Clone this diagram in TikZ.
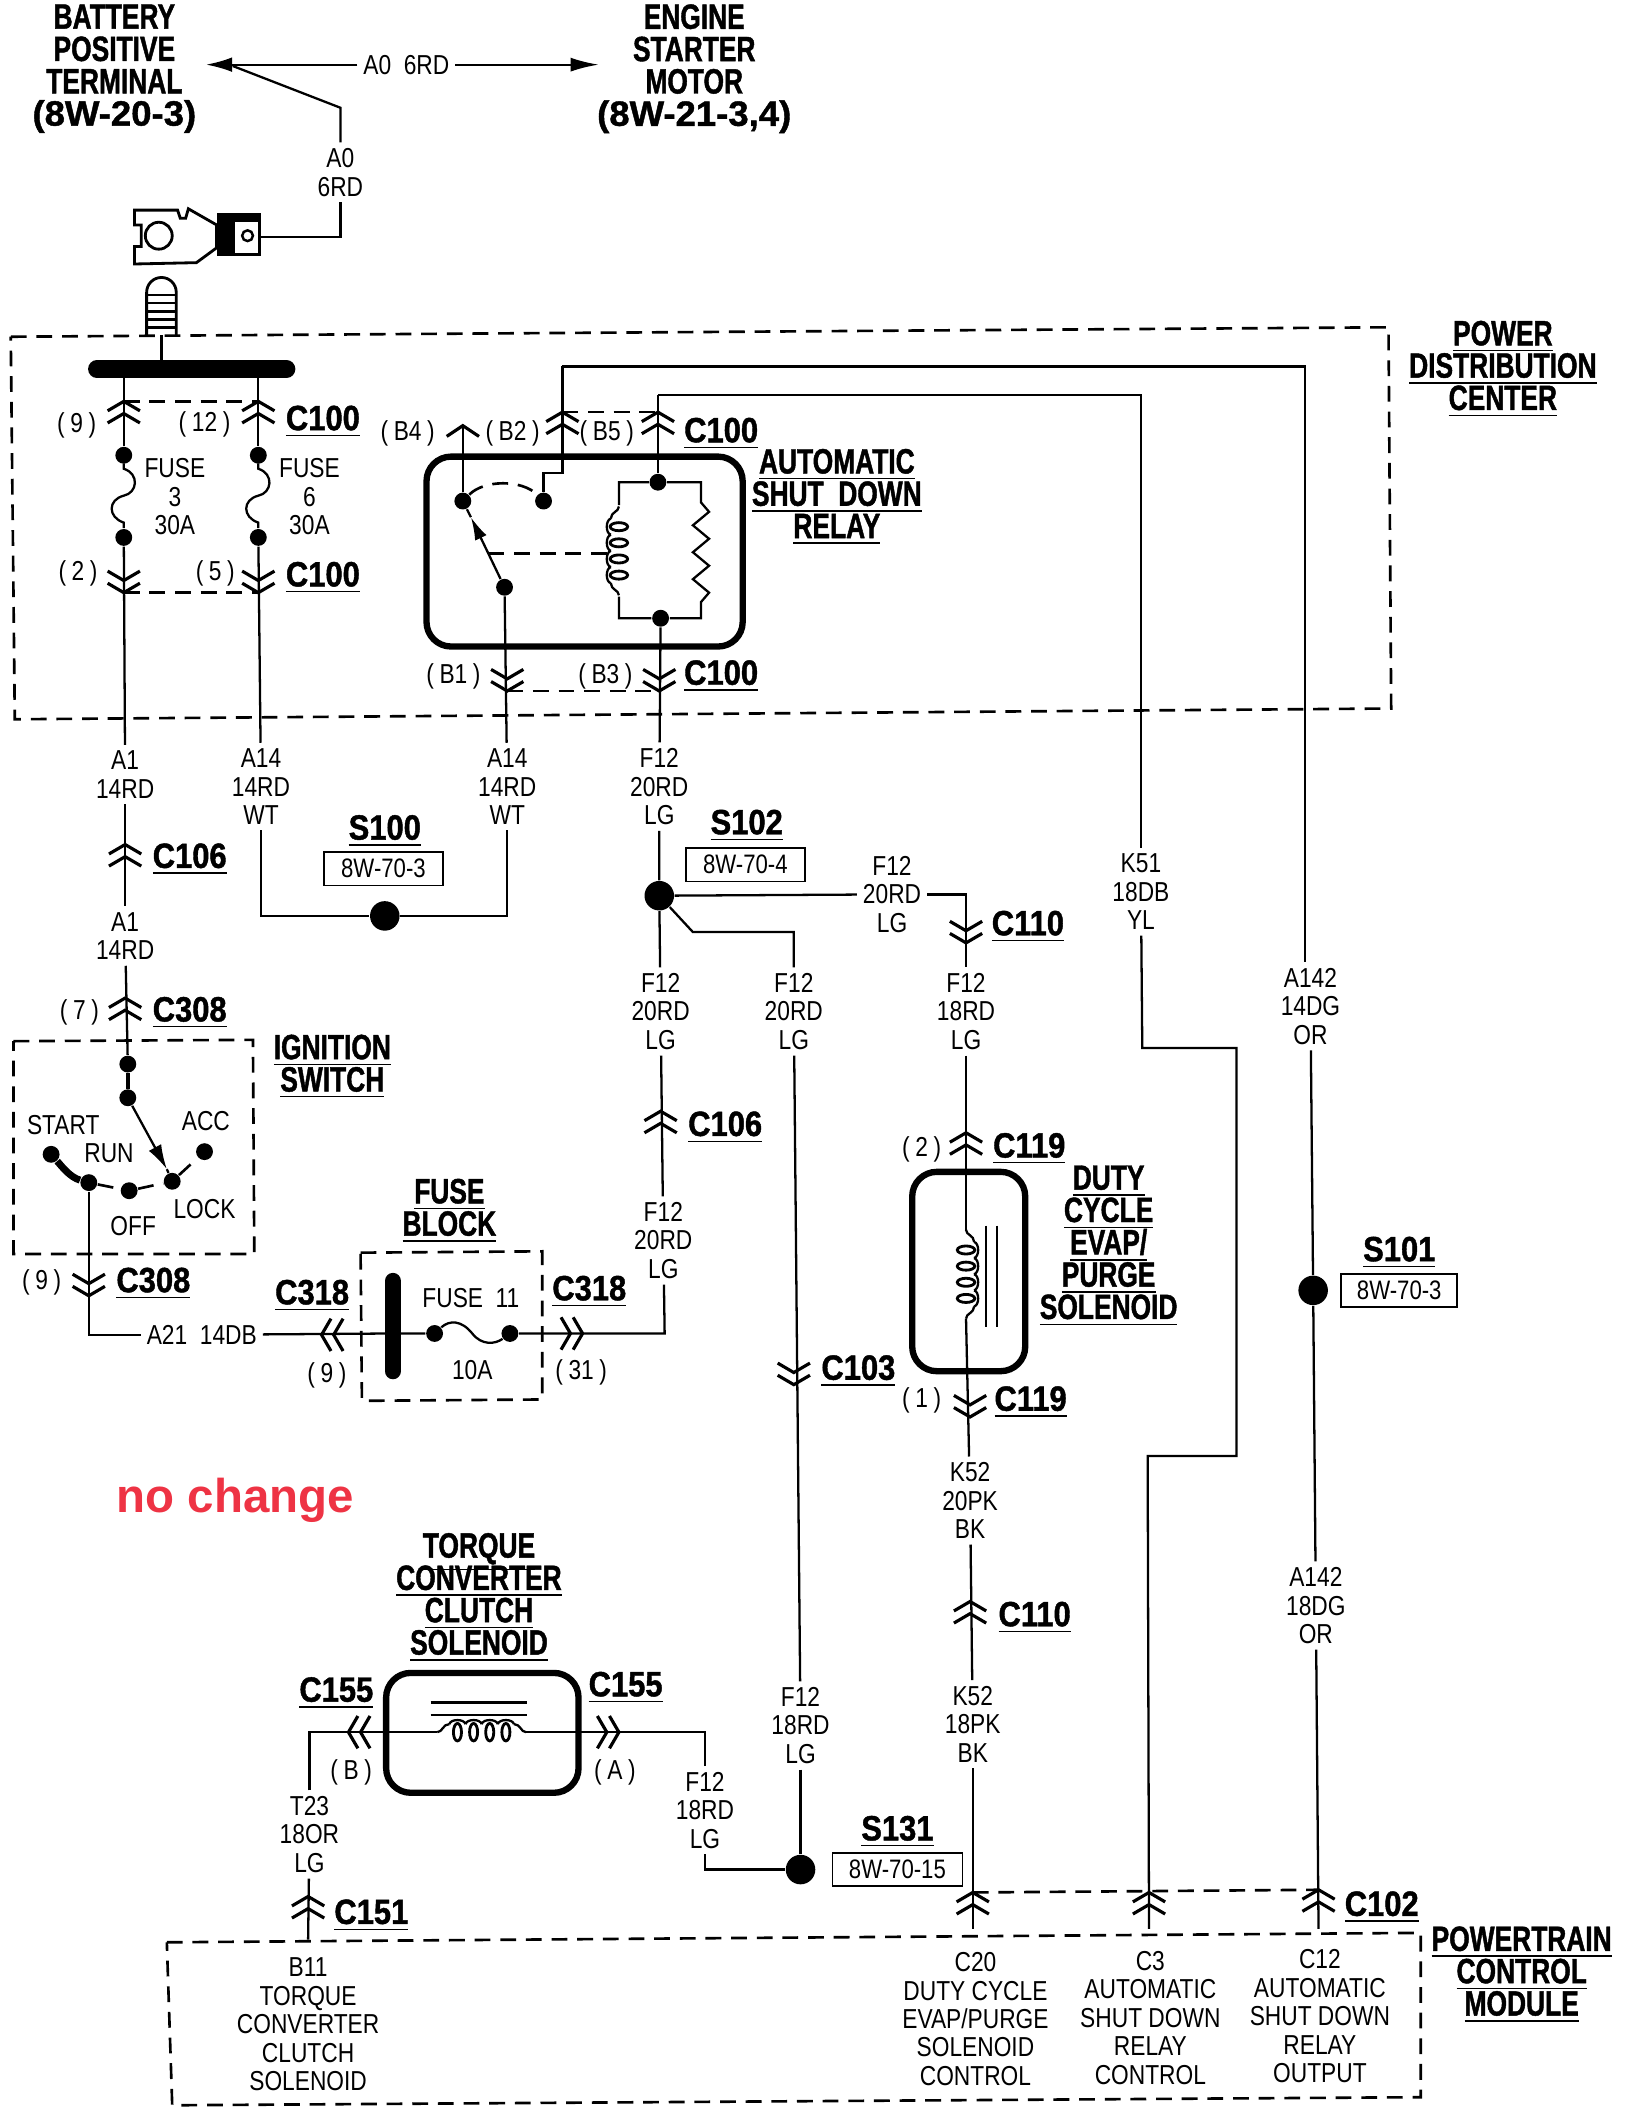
\documentclass[tikz,border=0pt]{standalone}
\usepackage{fontspec}
\setmainfont{Liberation Sans}
\newfontfamily\wirefont[FakeStretch=0.83]{Liberation Sans}
\newfontfamily\hdrfont[FakeStretch=0.75,FakeBold=1.2]{Liberation Sans}
\newfontfamily\numfont[FakeStretch=0.88,FakeBold=1.2]{Liberation Sans}
\newfontfamily\widefont[FakeStretch=1.04,FakeBold=1.2]{Liberation Sans}
\usetikzlibrary{arrows.meta}
\definecolor{stampred}{HTML}{EE3344}
\AtBeginDocument{\lineskiplimit=-5pt}
\newcommand{\ulbl}[1]{\underline{#1}}
\newcommand{\pinlbl}[1]{(\kern1.6pt #1\kern1.6pt)}
\tikzset{
    wire/.style={line width=0.65pt},
    thickbox/.style={line width=1.8pt, rounded corners=7pt},
    dashbox/.style={dashed, dash pattern=on 4.5pt off 2.8pt, line width=0.75pt},
    wlbl/.style={font=\wirefont\fontsize{7.8}{8.1}\selectfont, align=center, inner sep=1.5pt},
    hdr/.style={font=\hdrfont\bfseries\fontsize{10}{9.2}\selectfont, align=center, inner sep=0.5pt},
    chdr/.style={font=\numfont\bfseries\fontsize{10}{9.2}\selectfont, align=center, inner sep=0.5pt},
    dotn/.style={circle, fill=black, inner sep=0pt, minimum size=4.8pt},
    dotbig/.style={circle, fill=black, inner sep=0pt, minimum size=8.4pt},
    refbox/.style={draw, line width=0.5pt, font=\wirefont\fontsize{7.6}{8}\selectfont, inner sep=0pt, minimum height=9.5pt},
    conup/.pic={\draw[line width=0.9pt] (-12,7) -- (0,0) -- (12,7) (-12,16) -- (0,9) -- (12,16);},
    condown/.pic={\draw[line width=0.9pt] (-12,-7) -- (0,0) -- (12,-7) (-12,-16) -- (0,-9) -- (12,-16);},
    conleft/.pic={\draw[line width=0.9pt] (7,-12) -- (0,0) -- (7,12) (16,-12) -- (9,0) -- (16,12);},
    conright/.pic={\draw[line width=0.9pt] (-7,-12) -- (0,0) -- (-7,12) (-16,-12) -- (-9,0) -- (-16,12);},
    conone/.pic={\draw[line width=0.9pt] (-12,8) -- (0,0) -- (12,8);},
    coil/.pic={
        \draw[wire] (-33,0) .. controls (-29,0) and (-29,-6) .. (-24,-6);
        \draw[wire] (33,0) .. controls (29,0) and (29,-6) .. (24,-6);
        \foreach \c in {-18,-6,6,18} {
            \draw[wire] (\c-6,-6) .. controls (\c-5,-10) and (\c+5,-10) .. (\c+6,-6);
            \draw[line width=0.8pt] (\c,0) ellipse [x radius=3, y radius=6.5];
        }
    },
    fusewave/.pic={\draw[wire] (0,-24) -- (0,-20) .. controls (12,-16) and (10,-2) .. (0,0) .. controls (-12,3) and (-12,16) .. (0,20) -- (0,24);}
}
\begin{document}
\begin{tikzpicture}[x=0.013465cm, y=-0.01347cm]
    \useasboundingbox (0,0) rectangle (1212,1568);

    % top of the sheet
    \node[hdr] (batthdr) at (85,51) {BATTERY\\POSITIVE\\TERMINAL\\{\widefont (8W-20-3)}};
    \node[hdr] (starthdr) at (516,51) {ENGINE\\STARTER\\MOTOR\\{\widefont (8W-21-3,4)}};
    \node[wlbl] (a0h) at (302,48) {A0~~6RD};
    \node[wlbl] (a0v) at (253,128) {A0\\6RD};
    \coordinate (batttip) at (153,48);
    \coordinate (starttip) at (445,48);
    \coordinate (battjoin) at (173,49);
    \coordinate (a0bend) at (253,80);
    \coordinate (termend) at (194,176);
    \draw[wire, -{Latex[length=7.5pt, width=4.2pt]}] (a0h) -- (batttip);
    \draw[wire, -{Latex[length=8pt, width=4pt]}] (a0h) -- (starttip);
    \draw[wire] (battjoin) -- (a0bend) -- (a0v);
    \draw[wire] (a0v) |- (termend);

    % battery terminal and stud
    \draw[line width=0.8pt] (100,156) -- (132,156) -- (134,162) -- (138,162) -- (140,155) -- (161,167) -- (161,184) -- (146,195) -- (100,196) -- (100,183) -- (105,183) -- (105,167) -- (100,167) -- cycle;
    \draw[line width=0.8pt] (118,175) circle (10);
    \draw[line width=0.8pt] (162,159) rectangle (193,189);
    \fill (162,159) rectangle (175,189);
    \fill (162,159) rectangle (193,165);
    \draw[line width=0.7pt] (184,175) circle (4);
    \draw[line width=0.8pt] (109,249) -- (109,217) arc (180:360:11) -- (131,249);
    \foreach \y in {219,225,231,237,243} \draw[line width=0.8pt] (109,\y) -- (131,\y);

    % power distribution center
    \draw[dashbox] (8,250) -- (1032,243) -- (1034,526) -- (11,534) -- cycle;
    \node[hdr] (pdchdr) at (1117,274) {\ulbl{POWER}\\\ulbl{DISTRIBUTION}\\\ulbl{CENTER}};
    \coordinate (studend) at (120,249);
    \coordinate (busmid) at (120,274);
    \coordinate (busl) at (72,274);
    \coordinate (busr) at (213,274);
    \draw[wire] (studend) -- (busmid);
    \draw[line width=5pt, line cap=round] (busl) -- (busr);

    % fuses 3 and 6
    \coordinate (bus3) at (92,274);
    \coordinate (bus6) at (192,274);
    \node[dotn] (f3a) at (92,338) {};
    \node[dotn] (f3b) at (92,399) {};
    \node[dotn] (f6a) at (192,338) {};
    \node[dotn] (f6b) at (192,399) {};
    \draw[wire] (bus3) -- (f3a);
    \draw[wire] (bus6) -- (f6a);
    \pic at (92,368) {fusewave};
    \pic at (192,368) {fusewave};
    \pic at (92,298) {conup};
    \pic at (192,298) {conup};
    \pic at (92,440) {condown};
    \pic at (192,440) {condown};
    \draw[dashbox] (92,298) -- (192,298);
    \draw[dashbox] (92,440) -- (192,440);
    \node[wlbl] (pin9) at (57,316) {\pinlbl{9}};
    \node[wlbl] (pin12) at (152,315) {\pinlbl{12}};
    \node[wlbl] (pin2) at (58,426) {\pinlbl{2}};
    \node[wlbl] (pin5) at (160,426) {\pinlbl{5}};
    \node[wlbl] (fuse3) at (130,369) {FUSE\\3\\30A};
    \node[wlbl] (fuse6) at (230,369) {FUSE\\6\\30A};
    \node[chdr] (c100a) at (240,313) {\ulbl{C100}};
    \node[chdr] (c100b) at (240,429) {\ulbl{C100}};

    % shut down relay
    \draw[thickbox] (317,339) rectangle (552,480);
    \node[hdr] (relayhdr) at (622,369) {\ulbl{AUTOMATIC}\\\ulbl{SHUT~~DOWN}\\\ulbl{RELAY}};
    \node[dotn] (relnc) at (344,372) {};
    \node[dotn] (relno) at (404,372) {};
    \node[dotn] (relcom) at (375,436) {};
    \node[dotn] (coiltop) at (489,358) {};
    \node[dotn] (coilbot) at (491,459) {};
    \coordinate (b4tip) at (344,316);
    \coordinate (b2top) at (418,272);
    \coordinate (b5top) at (489,293);
    \coordinate (b2in) at (418,351);
    \coordinate (b2jog) at (404,351);
    \coordinate (blade) at (350,384);
    \coordinate (armstart) at (363,411);
    \coordinate (armend) at (452,411);
    \draw[wire] (relnc) -- (b4tip);
    \pic at (344,316) {conone};
    \pic at (418,306) {conup};
    \pic at (489,306) {conup};
    \draw[dashbox] (418,306) -- (489,306);
    \draw[wire] (b2top) -- (b2in) -- (b2jog) -- (relno);
    \draw[wire] (b5top) -- (coiltop);
    \draw[dashbox] (relnc) .. controls (360,356) and (388,356) .. (relno);
    \draw[wire, -{Latex[length=6.5pt, width=3.6pt]}] (relcom) -- (blade);
    \draw[wire] (blade) -- (relnc);
    \draw[dashbox] (armstart) -- (armend);
    \draw[wire] (460,375) -- (460,358) -- (coiltop) -- (521,358) -- (521,373) -- (527,380) -- (515,390) -- (527,400) -- (515,410) -- (527,420) -- (515,430) -- (527,440) -- (521,447) -- (521,459) -- (coilbot) -- (460,459) -- (460,443);
    \pic[rotate=90] at (460,409) {coil};
    \pic at (377,513) {condown};
    \pic at (490,513) {condown};
    \draw[dashbox] (377,513) -- (490,513);
    \node[wlbl] (pinb4) at (303,322) {\pinlbl{B4}};
    \node[wlbl] (pinb2) at (381,322) {\pinlbl{B2}};
    \node[wlbl] (pinb5) at (451,322) {\pinlbl{B5}};
    \node[wlbl] (pinb1) at (337,502) {\pinlbl{B1}};
    \node[wlbl] (pinb3) at (450,502) {\pinlbl{B3}};
    \node[chdr] (c100c) at (536,322) {\ulbl{C100}};
    \node[chdr] (c100d) at (536,502) {\ulbl{C100}};

    % long runs to the powertrain module
    \node[wlbl] (k51) at (848,662) {K51\\18DB\\YL};
    \node[wlbl] (a142a) at (974,747) {A142\\14DG\\OR};
    \node[wlbl] (a142b) at (978,1192) {A142\\18DG\\OR};
    \node[dotbig] (s101dot) at (976,958) {};
    \coordinate (a142corner) at (970,272);
    \coordinate (a142end) at (970,714);
    \coordinate (c3pin) at (854,1432);
    \coordinate (c12pin) at (980,1432);
    \draw[wire] (b2top) -- (a142corner) -- (a142end);
    \draw[wire] (b5top) -| (k51);
    \draw[wire] (k51) -- (849,778) -- (919,778) -- (919,1081) -- (853,1081) -- (c3pin);
    \draw[wire] (a142a) -- (s101dot) -- (a142b) -- (c12pin);
    \node[chdr] (s101) at (1040,930) {\ulbl{S101}};
    \node[refbox, minimum width=33pt] (s101box) at (1040,958) {8W-70-3};

    % left column down to the ignition switch
    \node[wlbl] (a1a) at (93,575) {A1\\14RD};
    \node[wlbl] (a1b) at (93,695) {A1\\14RD};
    \node[wlbl] (a14a) at (194,584) {A14\\14RD\\WT};
    \node[wlbl] (a14b) at (377,584) {A14\\14RD\\WT};
    \draw[wire] (f3b) -- (a1a);
    \draw[wire] (f6b) -- (a14a);
    \draw[wire] (relcom) -- (a14b);
    \draw[wire] (a1a) -- (a1b);
    \pic at (93,627) {conup};
    \node[chdr] (c106a) at (141,638) {\ulbl{C106}};
    \node[dotbig] (s100dot) at (286,680) {};
    \draw[wire] (a14a) |- (s100dot);
    \draw[wire] (a14b) |- (s100dot);
    \node[chdr] (s100) at (286,617) {\ulbl{S100}};
    \node[refbox, minimum width=34pt] (s100box) at (285,645) {8W-70-3};
    \pic at (93,741) {conup};
    \node[wlbl] (pin7) at (59,752) {\pinlbl{7}};
    \node[chdr] (c308a) at (141,752) {\ulbl{C308}};

    % ignition switch
    \draw[dashbox] (10,773) -- (188,772) -- (189,931) -- (10,931) -- cycle;
    \node[hdr] (ignhdr) at (247,792) {\ulbl{IGNITION}\\\ulbl{SWITCH}};
    \node[dotn] (ignin) at (95,790) {};
    \node[dotn] (ignpiv) at (95,815) {};
    \node[dotn] (ignstart) at (38,857) {};
    \node[dotn] (ignrun) at (66,878) {};
    \node[dotn] (ignoff) at (96,884) {};
    \node[dotn] (ignlock) at (128,877) {};
    \node[dotn] (ignacc) at (152,855) {};
    \coordinate (ignhead) at (124,868);
    \draw[wire] (a1b) -- (ignin);
    \draw[line width=1.3pt] (ignin) -- (ignpiv);
    \draw[wire, -{Latex[length=7pt, width=4pt]}] (ignpiv) -- (ignhead);
    \draw[wire] (ignhead) -- (ignlock);
    \draw[line width=2pt] (ignstart) .. controls (46,866) and (52,874) .. (ignrun);
    \draw[dashbox] (ignrun) -- (ignoff) -- (ignlock) -- (ignacc);
    \node[wlbl] (txtstart) at (47,835) {START};
    \node[wlbl] (txtrun) at (81,856) {RUN};
    \node[wlbl] (txtacc) at (153,832) {ACC};
    \node[wlbl] (txtoff) at (99,910) {OFF};
    \node[wlbl] (txtlock) at (152,898) {LOCK};
    \pic at (66,962) {condown};
    \node[wlbl] (pin9b) at (31,952) {\pinlbl{9}};
    \node[chdr] (c308b) at (114,953) {\ulbl{C308}};
    \node[wlbl] (a21) at (150,991) {A21~~14DB};
    \draw[wire] (ignrun) |- (a21);

    % fuse block
    \draw[dashbox] (268,930) -- (403,929) -- (403,1039) -- (269,1040) -- cycle;
    \node[hdr] (fusehdr) at (334,899) {\ulbl{FUSE}\\\ulbl{BLOCK}};
    \node[dotn] (f11a) at (323,990) {};
    \node[dotn] (f11b) at (379,990) {};
    \coordinate (fbbar) at (292,990);
    \coordinate (fbout) at (494,990);
    \draw[line width=4.6pt, line cap=round] (292,951) -- (292,1018);
    \draw[wire] (a21) -- (fbbar) -- (f11a);
    \draw[wire] (f11a) .. controls (334,980) and (343,980) .. (351,990) .. controls (358,999) and (368,998) .. (f11b);
    \pic at (239,991) {conleft};
    \pic at (433,990) {conright};
    \node[wlbl] (fuse11) at (350,964) {FUSE~~11};
    \node[wlbl] (fuse10a) at (351,1017) {10A};
    \node[chdr] (c318a) at (232,962) {\ulbl{C318}};
    \node[chdr] (c318b) at (438,959) {\ulbl{C318}};
    \node[wlbl] (pin9c) at (243,1021) {\pinlbl{9}};
    \node[wlbl] (pin31) at (432,1019) {\pinlbl{31}};

    % F12 feed
    \node[wlbl] (f12a) at (490,584) {F12\\20RD\\LG};
    \node[dotbig] (s102dot) at (490,665) {};
    \node[wlbl] (f12b) at (491,751) {F12\\20RD\\LG};
    \node[wlbl] (f12c) at (493,921) {F12\\20RD\\LG};
    \draw[wire] (coilbot) -- (f12a);
    \draw[wire] (f12a) -- (s102dot) -- (f12b);
    \draw[wire] (f12b) -- (f12c);
    \draw[wire] (f11b) -- (fbout) -- (f12c);
    \pic at (491,825) {conup};
    \node[chdr] (c106b) at (539,837) {\ulbl{C106}};
    \node[chdr] (s102) at (555,613) {\ulbl{S102}};
    \node[refbox, minimum width=34pt] (s102box) at (554,642) {8W-70-4};

    % branch to the duty cycle solenoid
    \node[wlbl] (f12d) at (663,664) {F12\\20RD\\LG};
    \node[wlbl] (f12e) at (718,751) {F12\\18RD\\LG};
    \node[wlbl] (k52a) at (721,1114) {K52\\20PK\\BK};
    \node[wlbl] (k52b) at (723,1280) {K52\\18PK\\BK};
    \coordinate (c20pin) at (723,1432);
    \coordinate (dutytop) at (718,913);
    \coordinate (dutybot) at (718,979);
    \draw[wire] (s102dot) -- (f12d);
    \draw[wire] (f12d) -| (f12e);
    \pic at (718,700) {condown};
    \node[chdr] (c110a) at (764,688) {\ulbl{C110}};
    \draw[wire] (f12e) -- (dutytop);
    \draw[wire] (dutybot) -- (k52a);
    \draw[wire] (k52a) -- (k52b);
    \draw[wire] (k52b) -- (c20pin);
    \pic at (718,841) {conup};
    \draw[thickbox] (678,870) rectangle (762,1018);
    \pic[rotate=-90] at (718,946) {coil};
    \draw[wire] (733,910) -- (733,985);
    \draw[wire] (741,910) -- (741,985);
    \pic at (721,1052) {condown};
    \pic at (721,1189) {conup};
    \node[wlbl] (pin2b) at (685,853) {\pinlbl{2}};
    \node[wlbl] (pin1) at (685,1040) {\pinlbl{1}};
    \node[chdr] (c119a) at (765,853) {\ulbl{C119}};
    \node[chdr] (c119b) at (766,1041) {\ulbl{C119}};
    \node[hdr] (dutyhdr) at (824,925) {\ulbl{DUTY}\\\ulbl{CYCLE}\\\ulbl{EVAP/}\\\ulbl{PURGE}\\\ulbl{SOLENOID}};
    \node[chdr] (c110b) at (769,1201) {\ulbl{C110}};

    % branch to the torque converter solenoid
    \coordinate (s102off) at (515,692);
    \node[wlbl] (f12f) at (590,751) {F12\\20RD\\LG};
    \node[wlbl] (f12g) at (595,1281) {F12\\18RD\\LG};
    \node[wlbl] (f12h) at (524,1344) {F12\\18RD\\LG};
    \node[dotbig] (s131dot) at (595,1388) {};
    \draw[wire] (s102dot) -- (s102off) -| (f12f);
    \draw[wire] (f12f) -- (f12g);
    \draw[wire] (f12g) -- (s131dot);
    \draw[wire] (s131dot) -| (f12h);
    \pic at (590,1028) {condown};
    \node[chdr] (c103) at (638,1018) {\ulbl{C103}};
    \node[chdr] (s131) at (667,1360) {\ulbl{S131}};
    \node[refbox, minimum width=37pt] (s131box) at (667,1388) {8W-70-15};
    \draw[thickbox] (287,1242) rectangle (430,1331);
    \node[hdr] (torqhdr) at (356,1186) {\ulbl{TORQUE}\\\ulbl{CONVERTER}\\\ulbl{CLUTCH}\\\ulbl{SOLENOID}};
    \coordinate (torqa) at (391,1286);
    \coordinate (torqb) at (325,1286);
    \node[wlbl] (t23) at (230,1362) {T23\\18OR\\LG};
    \draw[wire] (f12h) |- (torqa);
    \draw[wire] (t23) |- (torqb);
    \pic at (358,1286) {coil};
    \draw[wire] (320,1264) -- (392,1264);
    \draw[wire] (320,1273) -- (392,1273);
    \pic at (259,1286) {conleft};
    \pic at (460,1286) {conright};
    \node[chdr] (c155a) at (250,1257) {\ulbl{C155}};
    \node[chdr] (c155b) at (465,1253) {\ulbl{C155}};
    \node[wlbl] (pinb) at (261,1316) {\pinlbl{B}};
    \node[wlbl] (pina) at (457,1316) {\pinlbl{A}};
    \node[font=\bfseries\fontsize{13.5}{15}\selectfont, text=stampred, inner sep=0pt] (nochange) at (175,1114) {no change};

    % powertrain control module
    \draw[dashbox] (124,1442) -- (1056,1435) -- (1056,1557) -- (128,1563) -- cycle;
    \node[hdr] (pcmhdr) at (1131,1466) {\ulbl{POWERTRAIN}\\\ulbl{CONTROL}\\\ulbl{MODULE}};
    \coordinate (b11pin) at (229,1440);
    \draw[wire] (t23) -- (b11pin);
    \pic at (229,1408) {conup};
    \node[chdr] (c151) at (276,1422) {\ulbl{C151}};
    \pic at (723,1405) {conup};
    \pic at (854,1405) {conup};
    \pic at (980,1403) {conup};
    \draw[dashbox] (723,1405) -- (854,1404) -- (980,1403);
    \node[chdr] (c102) at (1027,1416) {\ulbl{C102}};
    \node[wlbl] (pcmb11) at (229,1503) {B11\\TORQUE\\CONVERTER\\CLUTCH\\SOLENOID};
    \node[wlbl] (pcmc20) at (725,1499) {C20\\DUTY CYCLE\\EVAP/PURGE\\SOLENOID\\CONTROL};
    \node[wlbl] (pcmc3) at (855,1498) {C3\\AUTOMATIC\\SHUT DOWN\\RELAY\\CONTROL};
    \node[wlbl] (pcmc12) at (981,1497) {C12\\AUTOMATIC\\SHUT DOWN\\RELAY\\OUTPUT};
\end{tikzpicture}
\end{document}
